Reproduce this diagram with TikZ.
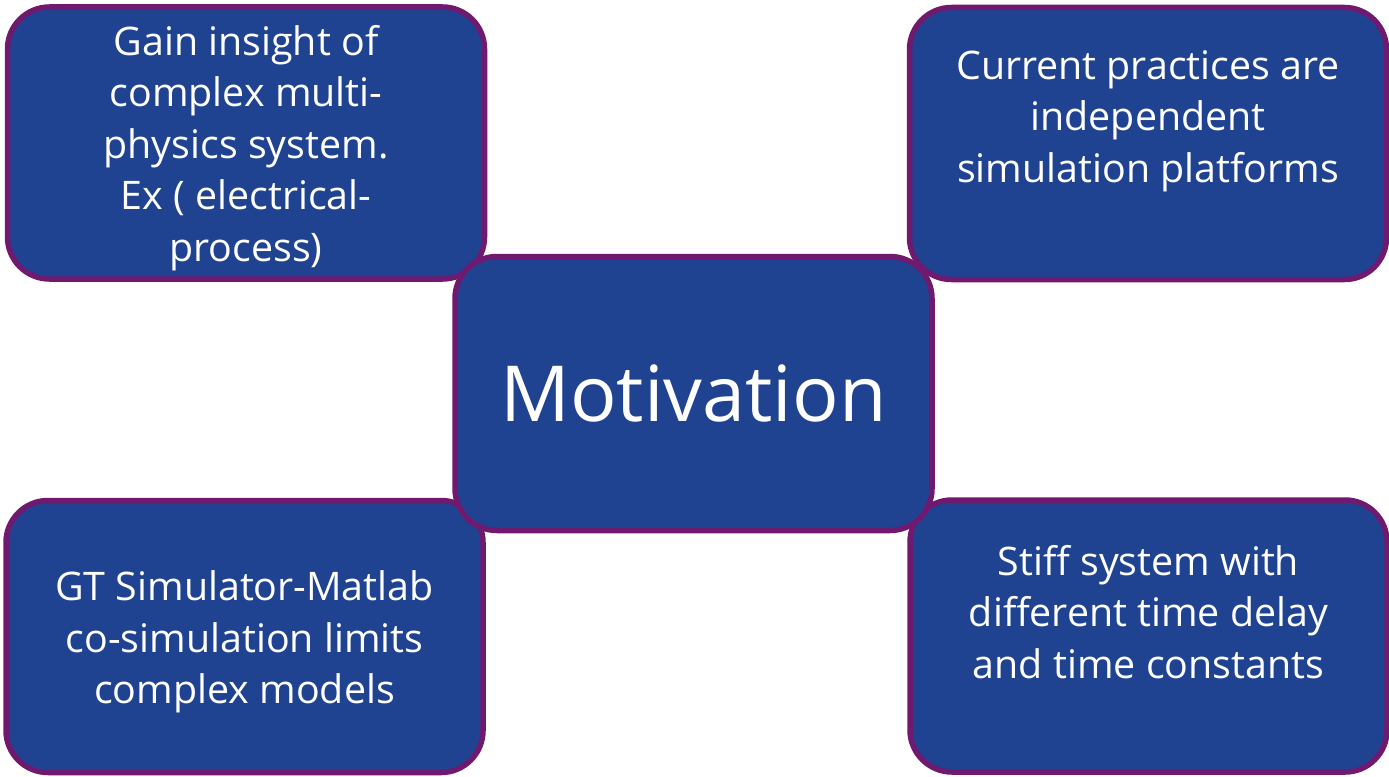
\documentclass[tikz,border=0pt]{standalone}
\usepackage{fontspec}
\setmainfont{Open Sans}
\usepackage{tikz}
\usetikzlibrary{shapes,positioning}
\definecolor{cardblue}{HTML}{1F4391}
\definecolor{cardrim}{HTML}{6F1A6E}
\tikzstyle{card} = [rectangle, rounded corners=0.42cm, draw=cardrim, fill=cardblue, line width=0.055cm, minimum width=4.77cm, minimum height=2.72cm, inner sep=0pt]
\tikzstyle{cardtext} = [text=white, align=center, inner sep=0pt, font=\fontsize{11.2}{14.7}\selectfont]

\begin{document}
\begin{tikzpicture}

%	\draw[help lines] (0,0) grid (14,8);
	\useasboundingbox (0,0) rectangle (13.89,7.76);

	% Top left card
	\node[card] (insight) at (2.46,6.33) {};
	\node[cardtext] (insighttxt) at ([yshift=-0.05cm]insight.center)
		{Gain insight of\\complex multi-\\physics system.\\Ex ( electrical-\\process)};

	% Top right card
	\node[card] (practice) at (11.48,6.325) {};
	\node[cardtext] (practicetxt) at ([yshift=0.225cm]practice.center)
		{Current practices are\\independent\\simulation platforms};

	% Bottom left card
	\node[card] (cosim) at (2.445,1.395) {};
	\node[cardtext] (cosimtxt) at ([yshift=-0.055cm]cosim.center)
		{GT Simulator-Matlab\\co-simulation limits\\complex models};

	% Bottom right card
	\node[card] (stiff) at (11.485,1.40) {};
	\node[cardtext] (stifftxt) at ([yshift=0.24cm]stiff.center)
		{Stiff system with\\different time delay\\and time constants};

	% Centre card, drawn last so it sits on top
	\node[card, minimum height=2.74cm, text=white, font=\fontsize{22}{27}\selectfont] (motiv) at (6.935,3.825) {Motivation};

\end{tikzpicture}
\end{document}
